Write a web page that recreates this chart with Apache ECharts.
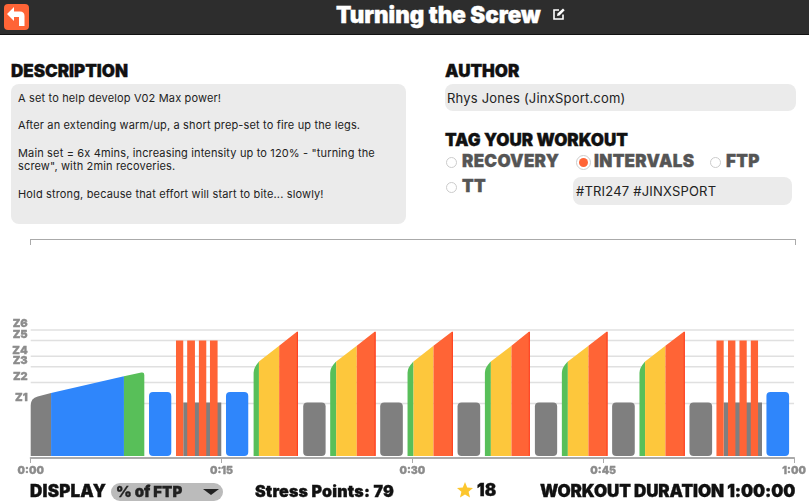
<!DOCTYPE html>
<html>
<head>
<meta charset="utf-8">
<title>Turning the Screw</title>
<script src="https://cdn.jsdelivr.net/npm/echarts@6/dist/echarts.min.js"></script>
<style>
html, body { margin: 0; padding: 0; background: #fff; }
body { width: 809px; height: 504px; position: relative; overflow: hidden; font-family: Inter, "Open Sans", sans-serif; color: #111; }
.abs { position: absolute; white-space: nowrap; }
.head { font-weight: 900; font-size: 17px; line-height: 18px; -webkit-text-stroke: 0.35px currentColor; }
.tag { font-weight: 900; font-size: 17px; line-height: 18px; color: #555; letter-spacing: 0.3px; -webkit-text-stroke: 0.35px currentColor; }
.box { position: absolute; background: #ebebeb; border-radius: 8px; }
.txt { font-size: 11px; line-height: 13.65px; color: #222; letter-spacing: 0.15px; }
.val { font-size: 13px; line-height: 16px; color: #222; letter-spacing: 0.2px; }
.radio { position: absolute; width: 9px; height: 9px; border-radius: 50%; border: 1px solid #ccc; background: #fff; }
#chart { position: absolute; left: 0; top: 235px; width: 809px; height: 250px; }
</style>
</head>
<body>
<div class="abs" style="left:0;top:0;width:809px;height:34px;background:#2d2d2d;border-bottom:1px solid #111"></div>
<svg class="abs" style="left:4px;top:4px" width="25" height="26" viewBox="0 0 25 26">
  <rect width="25" height="26" rx="4" fill="#ff6436"/>
  <path d="M3 10 L10 3 V7.5 H16 Q20.5 7.5 20.5 12 V22 H15 V13 H10 V17 Z" fill="#fff"/>
</svg>
<div class="abs" id="title" style="left:336px;top:3px;font-size:22.4px;line-height:24px;font-weight:900;color:#fff;-webkit-text-stroke:0.4px #fff">Turning the Screw</div>
<svg class="abs" style="left:552px;top:7px" width="14" height="14" viewBox="0 0 14 14">
  <path d="M11 7.5 V12 H2 V3 H7" fill="none" stroke="#fff" stroke-width="1.6"/>
  <path d="M5 9 L5.5 6.5 L11 1.5 L12.7 3.2 L7.5 8.5 Z" fill="#fff"/>
</svg>

<div class="abs head" style="left:11px;top:62px">DESCRIPTION</div>
<div class="box" style="left:11px;top:84px;width:395px;height:140px"></div>
<div class="abs txt" style="left:18px;top:92px">A set to help develop V02 Max power!<br><br>After an extending warm/up, a short prep-set to fire up the legs.<br><br>Main set = 6x 4mins, increasing intensity up to 120% - "turning the<br>screw", with 2min recoveries.<br><br>Hold strong, because that effort will start to bite... slowly!</div>

<div class="abs head" style="left:445px;top:62px">AUTHOR</div>
<div class="box" style="left:445px;top:84px;width:351px;height:27px"></div>
<div class="abs val" style="left:447px;top:90px">Rhys Jones (JinxSport.com)</div>

<div class="abs head" style="left:445px;top:131px">TAG YOUR WORKOUT</div>
<div class="radio" style="left:446px;top:157px"></div>
<div class="abs tag" style="left:462px;top:152px">RECOVERY</div>
<div class="radio" style="left:576px;top:155px;width:13px;height:13px"></div>
<div class="abs" style="left:579px;top:158px;width:9px;height:9px;border-radius:50%;background:#ff6436"></div>
<div class="abs tag" style="left:594px;top:152px">INTERVALS</div>
<div class="radio" style="left:710px;top:157px"></div>
<div class="abs tag" style="left:726px;top:152px">FTP</div>
<div class="radio" style="left:446px;top:182px"></div>
<div class="abs tag" style="left:462px;top:177px">TT</div>
<div class="box" style="left:573px;top:177px;width:219px;height:28px"></div>
<div class="abs val" style="left:576px;top:183px">#TRI247 #JINXSPORT</div>

<div class="abs" style="left:30px;top:239px;width:764px;height:5px;border:solid #aaa;border-width:1.5px 1.5px 0 1.5px"></div>

<div id="chart"></div>

<div class="abs head" style="left:30px;top:482px;letter-spacing:0.2px">DISPLAY</div>
<div class="abs" style="left:111px;top:483px;width:112px;height:18px;border-radius:9px;background:#bbb"></div>
<div class="abs" style="left:116px;top:483px;font-size:15px;line-height:18px;font-weight:900;color:#222;-webkit-text-stroke:0.3px #222">% of FTP</div>
<svg class="abs" style="left:203px;top:489px" width="16" height="7"><path d="M0 0 H16 L8 6 Z" fill="#222"/></svg>
<div class="abs head" style="left:255px;top:482px;font-size:16px;letter-spacing:0.2px">Stress Points: 79</div>
<svg class="abs" style="left:457px;top:482px" width="16" height="16" viewBox="0 0 16 16"><path d="M8 0 L10.2 5.5 L16 6 L11.6 9.8 L13 15.6 L8 12.5 L3 15.6 L4.4 9.8 L0 6 L5.8 5.5 Z" fill="#fcc62d"/></svg>
<div class="abs head" style="left:477px;top:481px">18</div>
<div class="abs head" style="left:540px;top:482px;letter-spacing:-0.1px">WORKOUT DURATION 1:00:00</div>

<script>
// zones, % of FTP
var zoneLabels = ['Z1', 'Z2', 'Z3', 'Z4', 'Z5', 'Z6'];
var zoneValues = [50, 70, 85, 95, 110, 120];

// warm up ramp: minutes and % of FTP at each segment edge
var warmTimes = [0, 1.6, 7.33, 8.93];
var warmPower = [55, 60, 76, 80];

// blue recovery blocks [start, end] minutes
var blueStarts = [9.3, 15.35, 57.83];
var blueEnds = [11.05, 17.1, 59.61];
var bluePower = 61;

// grey rests between main sets
var restStarts = [21.42, 27.47, 33.55, 39.63, 45.7, 51.78];
var restEnds = [23.18, 29.25, 35.33, 41.38, 47.48, 53.56];
var restPower = 51;

// prep sets: grey band with orange spikes on top
var prepGreyStarts = [11.99, 54.47];
var prepGreyEnds = [14.98, 57.48];
var spikeStarts = [11.42, 12.3, 13.22, 14.09, 53.9, 54.81, 55.71, 56.6];
var spikeEnds = [11.99, 12.91, 13.8, 14.69, 54.47, 55.39, 56.28, 57.17];
var spikePower = 110;

// main set ramps
var mainStarts = [17.52, 23.54, 29.62, 35.7, 41.75, 47.85];
var greenEnds = [17.94, 24.01, 30.09, 36.17, 42.22, 48.29];
var yellowEnds = [19.53, 25.63, 31.66, 37.79, 43.84, 49.89];
var orangeEnds = [21.0, 27.11, 33.18, 39.23, 45.34, 51.41];
var mainPower = [84, 90, 105, 119];

var timeLabels = { 0: '0:00', 15: '0:15', 30: '0:30', 45: '0:45', 60: '1:00' };

var colors = { grey: '#7f7f7f', blue: '#2f86fb', green: '#58bf59', yellow: '#fdc73c', orange: '#ff6436', red: '#ff3b1c' };

// custom sloped block with soft corners
var WorkoutBlock = echarts.graphic.extendShape({
	shape: { x0: 0, x1: 0, yl: 0, yr: 0, base: 0, rtl: 0, rtr: 0, rb: 0 },
	buildPath: function (ctx, s) {
		var slope = (s.yr - s.yl) / ((s.x1 - s.x0) || 1);
		ctx.moveTo(s.x0, s.base - s.rb);
		ctx.lineTo(s.x0, s.yl + s.rtl);
		ctx.quadraticCurveTo(s.x0, s.yl, s.x0 + s.rtl, s.yl + slope * s.rtl);
		ctx.lineTo(s.x1 - s.rtr, s.yr - slope * s.rtr);
		ctx.quadraticCurveTo(s.x1, s.yr, s.x1, s.yr + s.rtr);
		ctx.lineTo(s.x1, s.base - s.rb);
		ctx.quadraticCurveTo(s.x1, s.base, s.x1 - s.rb, s.base);
		ctx.lineTo(s.x0 + s.rb, s.base);
		ctx.quadraticCurveTo(s.x0, s.base, s.x0, s.base - s.rb);
		ctx.closePath();
	}
});
echarts.graphic.registerShape('workoutBlock', WorkoutBlock);

// each block: start, end, power at start, power at end, colour, rtl, rtr, rb, red edge
var blocks = [];
function addBlock(a, b, p0, p1, c, rtl, rtr, rb, edge) {
	blocks.push([a, b, p0, p1, c, rtl, rtr, rb, edge ? 1 : 0]);
}
addBlock(warmTimes[0], warmTimes[1], warmPower[0], warmPower[1], colors.grey, 7, 0, 0);
addBlock(warmTimes[1], warmTimes[2], warmPower[1], warmPower[2], colors.blue, 0, 0, 0);
addBlock(warmTimes[2], warmTimes[3], warmPower[2], warmPower[3], colors.green, 0, 3, 0);
blueStarts.forEach(function (s, i) {
	addBlock(s, blueEnds[i], bluePower, bluePower, colors.blue, 4, 4, 4);
});
restStarts.forEach(function (s, i) {
	addBlock(s, restEnds[i], restPower, restPower, colors.grey, 4, 4, 4);
});
prepGreyStarts.forEach(function (s, i) {
	addBlock(s, prepGreyEnds[i], restPower, restPower, colors.grey, 0, 0, 0);
});
spikeStarts.forEach(function (s, i) {
	addBlock(s, spikeEnds[i], spikePower, spikePower, colors.orange, 0, 0, 0);
});
mainStarts.forEach(function (s, i) {
	addBlock(s, greenEnds[i], mainPower[0], mainPower[1], colors.green, 5, 0, 0);
	addBlock(greenEnds[i], yellowEnds[i], mainPower[1], mainPower[2], colors.yellow, 0, 0, 0);
	addBlock(yellowEnds[i], orangeEnds[i], mainPower[2], mainPower[3], colors.orange, 0, 1, 0, true);
});

var myChart = echarts.init(document.getElementById('chart'));
myChart.setOption({
	animation: false,
	grid: { left: 30.7, top: 95, width: 763.6, height: 128 },
	xAxis: {
		type: 'value',
		min: 0,
		max: 60,
		interval: 15,
		axisLine: { onZero: false, lineStyle: { color: '#aaa', width: 2 } },
		axisTick: { length: 5, lineStyle: { color: '#aaa', width: 1 } },
		splitLine: { show: false },
		axisLabel: {
			margin: 7,
			color: '#8c8c8c',
			fontFamily: 'Inter',
			fontWeight: 900,
			fontSize: 10.5,
			textBorderColor: '#8c8c8c',
			textBorderWidth: 0.3,
			hideOverlap: false,
			showMinLabel: true,
			showMaxLabel: true,
			formatter: function (v) { return timeLabels[v]; }
		}
	},
	yAxis: {
		type: 'value',
		min: -2,
		max: 120,
		axisLine: { show: false },
		axisTick: { show: false },
		splitLine: { show: false },
		axisLabel: { show: false }
	},
	series: [{
		name: 'zones',
		type: 'custom',
		silent: true,
		z: 1,
		clip: false,
		data: zoneValues,
		renderItem: function (params, api) {
			var a = api.coord([0, api.value(0)]);
			var b = api.coord([60, api.value(0)]);
			// axis labels drop Z5 or Z6 as overlapping, so the zone names are drawn here
			return {
				type: 'group',
				children: [{
					type: 'line',
					shape: { x1: a[0], y1: a[1], x2: b[0], y2: b[1] },
					style: { stroke: '#e0e0e0', lineWidth: 1.5 }
				}, {
					type: 'text',
					x: a[0] - 3,
					y: a[1] - 6,
					style: {
						text: zoneLabels[params.dataIndex],
						align: 'right',
						verticalAlign: 'middle',
						fill: '#8c8c8c',
						stroke: '#8c8c8c',
						lineWidth: 0.3,
						fontFamily: 'Inter',
						fontWeight: 900,
						fontSize: 11
					}
				}]
			};
		}
	}, {
		name: 'workout',
		type: 'custom',
		silent: true,
		z: 2,
		clip: false,
		data: blocks,
		renderItem: function (params, api) {
			var i = params.dataIndex, b = blocks[i];
			var p0 = api.coord([b[0], b[2]]);
			var p1 = api.coord([b[1], b[3]]);
			var base = api.coord([b[0], 0])[1];
			var children = [{
				type: 'workoutBlock',
				shape: { x0: p0[0], x1: p1[0], yl: p0[1], yr: p1[1], base: base, rtl: b[5], rtr: b[6], rb: b[7] },
				style: { fill: b[4] }
			}];
			if (b[8]) {
				children.push({
					type: 'line',
					shape: { x1: p1[0] - 0.5, y1: p1[1] + 1, x2: p1[0] - 0.5, y2: base },
					style: { stroke: colors.red, lineWidth: 1 }
				});
			}
			return { type: 'group', children: children };
		}
	}]
});
</script>
</body>
</html>
